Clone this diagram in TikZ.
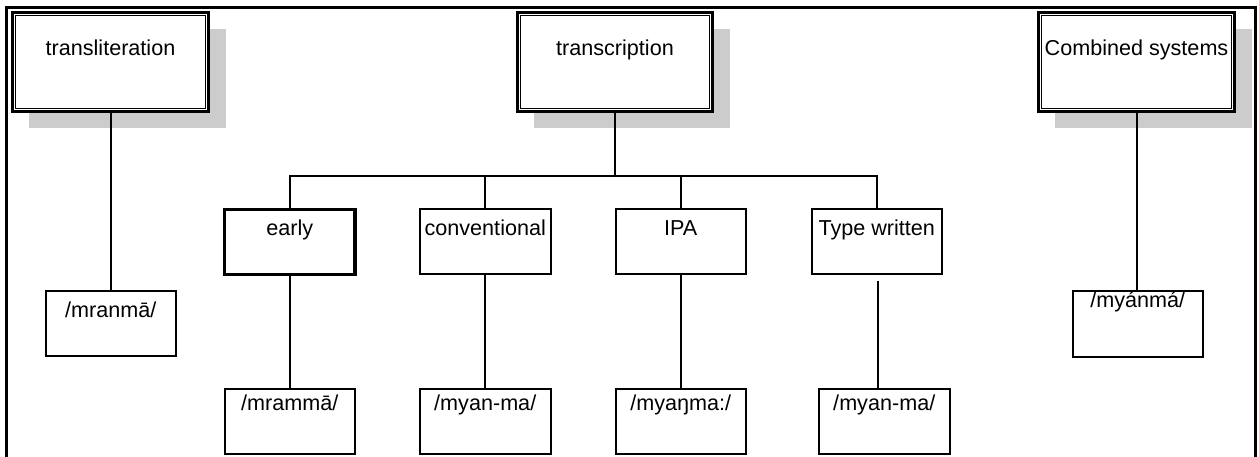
\documentclass[tikz,border=0pt]{standalone}
\usepackage{fontspec}
\setmainfont{Liberation Sans}
\usetikzlibrary{backgrounds}
\definecolor{shadowgray}{HTML}{CCCCCC}
\begin{document}
\begin{tikzpicture}[x=1pt,y=-1pt,
  box/.style={draw, line width=2pt, fill=white, inner sep=0pt, outer sep=0pt, anchor=base,
    font=\fontsize{21.6}{26}\selectfont},
  thickbox/.style={box, line width=3.5pt},
  headbox/.style={box, line width=3pt, minimum width=196pt, text height=43.5pt, text depth=55.5pt},
  rowbox/.style={box, minimum width=130.5pt, text height=26.5pt, text depth=38.5pt},
  lowbox/.style={box, minimum width=130.5pt, text height=21.5pt, text depth=43.5pt},
  innerline/.style={line width=1.3pt},
  shadowfill/.style={fill=shadowgray},
  conn/.style={line width=2pt, line join=miter},
  frameline/.style={line width=3pt, line join=miter},
]
\useasboundingbox (0,0) rectangle (1259,457);

% outer frame
\draw[frameline] (6.5,460) -- (6.5,7.5) -- (1255.5,7.5) -- (1255.5,460);

% head boxes
\node[headbox] (tl) at (110.5,56) {transliteration};
\node[headbox, minimum width=195pt] (tc) at (615,56) {transcription};
\node[headbox] (cs) at (1136.5,56) {Combined systems};
\foreach \n in {tl,tc,cs}{
  \draw[innerline] ([shift={(3.2,3.2)}]\n.north west) rectangle ([shift={(-3.2,-3.2)}]\n.south east);
}
\begin{scope}[on background layer]
\foreach \n in {tl,tc,cs}{
  \fill[shadowfill] ([shift={(16,17)}]\n.north west) rectangle ([shift={(17,17)}]\n.south east);
}
\end{scope}

% second row
\node[rowbox, line width=3.5pt] (early) at (289.75,236) {early};
\node[rowbox] (conv) at (485.25,236) {conventional};
\node[rowbox] (ipa) at (680.75,236) {IPA};
\node[rowbox] (tw) at (876.75,236) {Type written};

% bottom row
\node[lowbox] (b1) at (289.75,410) {/mrammā/};
\node[lowbox] (b2) at (485.25,410) {/myan-ma/};
\node[lowbox] (b3) at (680.75,410) {/myaŋma:/};
\node[lowbox] (b4) at (884.25,410) {/myan-ma/};

% side boxes
\node[box, minimum width=130.5pt, text height=25.5pt, text depth=39pt] (b0) at (110.75,317) {/mranmā/};
\node[box, minimum width=130.5pt, text height=15.5pt, text depth=49.5pt] (b5) at (1137.75,307) {/myánmá/};

% connectors
\coordinate (bus) at (616,176.5);
\draw[conn] (tl.south) -- (tl.south |- b0.north);
\draw[conn] (tc.south) -- (tc.south |- bus);
\draw[conn] (early.north) -- (early.north |- bus) -- (tw.north |- bus) -- (tw.north);
\draw[conn] (conv.north) -- (conv.north |- bus);
\draw[conn] (ipa.north) -- (ipa.north |- bus);
\draw[conn] (early.south) -- (b1.north);
\draw[conn] (conv.south) -- (b2.north);
\draw[conn] (ipa.south) -- (b3.north);
\coordinate (twg) at (878,281);
\draw[conn] (twg) -- (twg |- b4.north);
\draw[conn] (cs.south) -- (cs.south |- b5.north);
\end{tikzpicture}
\end{document}
